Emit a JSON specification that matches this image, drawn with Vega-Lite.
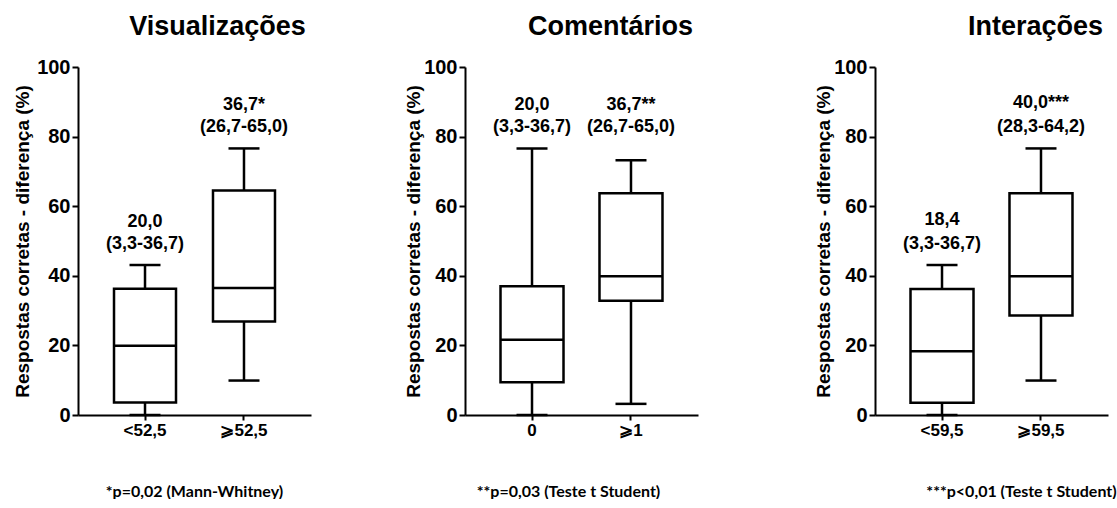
{
  "$schema": "https://vega.github.io/schema/vega-lite/v6.json",
  "background": "white",
  "padding": {"left": 13, "top": 13, "right": 0, "bottom": 0},
  "config": {
    "view": {"stroke": null},
    "font": "Liberation Sans",
    "title": {"font": "Liberation Sans", "fontSize": 27, "fontWeight": "bold", "color": "#000", "anchor": "middle", "offset": 16},
    "axis": {"domainColor": "#000", "domainWidth": 2, "tickColor": "#000", "tickWidth": 2, "labelColor": "#000", "titleColor": "#000", "grid": false, "labelFont": "Liberation Sans", "titleFont": "Liberation Sans", "labelFontWeight": "bold", "titleFontWeight": "bold"},
    "tick": {"opacity": 1}
  },
  "datasets": {
    "boxes": [
      {"panel": "V", "group": "<52,5", "lower": 0, "q1": 3.6, "median": 19.9, "q3": 36.3, "upper": 43.1, "stat": "20,0", "iqr": "(3,3-36,7)"},
      {"panel": "V", "group": "⩾52,5", "lower": 9.9, "q1": 26.9, "median": 36.5, "q3": 64.5, "upper": 76.6, "stat": "36,7*", "iqr": "(26,7-65,0)"},
      {"panel": "C", "group": "0", "lower": 0, "q1": 9.4, "median": 21.6, "q3": 37.0, "upper": 76.6, "stat": "20,0", "iqr": "(3,3-36,7)"},
      {"panel": "C", "group": "⩾1", "lower": 3.2, "q1": 32.8, "median": 39.9, "q3": 63.7, "upper": 73.2, "stat": "36,7**", "iqr": "(26,7-65,0)"},
      {"panel": "I", "group": "<59,5", "lower": 0, "q1": 3.5, "median": 18.3, "q3": 36.2, "upper": 43.1, "stat": "18,4", "iqr": "(3,3-36,7)"},
      {"panel": "I", "group": "⩾59,5", "lower": 9.9, "q1": 28.6, "median": 39.9, "q3": 63.7, "upper": 76.6, "stat": "40,0***", "iqr": "(28,3-64,2)"}
    ]
  },
  "hconcat": [
    {
      "hconcat": [
        {
          "title": {"text": "Visualizações", "dx": 23},
          "width": 233, "height": 348,
          "data": {"name": "boxes"},
          "transform": [{"filter": "datum.panel === 'V'"}],
          "encoding": {
            "x": {"field": "group", "type": "nominal", "sort": null, "scale": {"paddingInner": 0, "paddingOuter": 0.177},
              "axis": {"title": "*p=0,02 (Mann-Whitney)", "titleFont": "Lato", "titleFontSize": 16, "titlePadding": 45, "titleX": 116, "titleAlign": "center", "labelAngle": 0, "labelFontSize": 17, "tickSize": 5, "labelPadding": 2}}
          },
          "layer": [
            {"mark": {"type": "rule", "color": "#000", "strokeWidth": 2.5}, "encoding": {"y": {"field": "lower", "type": "quantitative", "scale": {"domain": [0, 100], "nice": false}, "axis": {"title": "Respostas corretas - diferença (%)", "titleFontSize": 19, "titlePadding": 4, "values": [0,5,10,15,20,25,30,35,40,45,50,55,60,65,70,75,80,85,90,95,100], "labelExpr": "datum.value % 20 === 0 ? datum.label : ''", "labelFontSize": 20, "labelPadding": 2, "tickSize": {"condition": {"test": "datum.value % 20 === 0", "value": 6}, "value": 3}}}, "y2": {"field": "q1"}}},
            {"mark": {"type": "rule", "color": "#000", "strokeWidth": 2.5}, "encoding": {"y": {"field": "q3", "type": "quantitative"}, "y2": {"field": "upper"}}},
            {"mark": {"type": "tick", "color": "#000", "opacity": 1, "size": 31, "thickness": 2.5, "orient": "horizontal"}, "encoding": {"y": {"field": "lower", "type": "quantitative"}}},
            {"mark": {"type": "tick", "color": "#000", "opacity": 1, "size": 31, "thickness": 2.5, "orient": "horizontal"}, "encoding": {"y": {"field": "upper", "type": "quantitative"}}},
            {"mark": {"type": "bar", "fill": "white", "stroke": "#000", "strokeWidth": 2.5, "size": 62}, "encoding": {"y": {"field": "q1", "type": "quantitative"}, "y2": {"field": "q3"}}},
            {"mark": {"type": "tick", "color": "#000", "opacity": 1, "size": 62, "thickness": 2.5, "orient": "horizontal"}, "encoding": {"y": {"field": "median", "type": "quantitative"}}},
            {"mark": {"type": "text", "font": "Liberation Sans", "fontWeight": "bold", "fontSize": 18, "color": "#000", "baseline": "middle", "dy": -43}, "encoding": {"y": {"field": "upper", "type": "quantitative"}, "text": {"field": "stat"}}},
            {"mark": {"type": "text", "font": "Liberation Sans", "fontWeight": "bold", "fontSize": 18, "color": "#000", "baseline": "middle", "dy": -21}, "encoding": {"y": {"field": "upper", "type": "quantitative"}, "text": {"field": "iqr"}}}
          ]
        },
        {
          "title": {"text": "Comentários", "dx": 29},
          "width": 233, "height": 348,
          "data": {"name": "boxes"},
          "transform": [{"filter": "datum.panel === 'C'"}, {"joinaggregate": [{"op": "max", "field": "upper", "as": "top"}]}],
          "encoding": {
            "x": {"field": "group", "type": "nominal", "sort": null, "scale": {"paddingInner": 0, "paddingOuter": 0.177},
              "axis": {"title": "**p=0,03 (Teste t Student)", "titleFont": "Lato", "titleFontSize": 16, "titlePadding": 45, "titleX": 103, "titleAlign": "center", "labelAngle": 0, "labelFontSize": 17, "tickSize": 5, "labelPadding": 2}}
          },
          "layer": [
            {"mark": {"type": "rule", "color": "#000", "strokeWidth": 2.5}, "encoding": {"y": {"field": "lower", "type": "quantitative", "scale": {"domain": [0, 100], "nice": false}, "axis": {"title": "Respostas corretas - diferença (%)", "titleFontSize": 19, "titlePadding": 0, "values": [0,5,10,15,20,25,30,35,40,45,50,55,60,65,70,75,80,85,90,95,100], "labelExpr": "datum.value % 20 === 0 ? datum.label : ''", "labelFontSize": 20, "labelPadding": 2, "tickSize": {"condition": {"test": "datum.value % 20 === 0", "value": 6}, "value": 3}}}, "y2": {"field": "q1"}}},
            {"mark": {"type": "rule", "color": "#000", "strokeWidth": 2.5}, "encoding": {"y": {"field": "q3", "type": "quantitative"}, "y2": {"field": "upper"}}},
            {"mark": {"type": "tick", "color": "#000", "opacity": 1, "size": 31, "thickness": 2.5, "orient": "horizontal"}, "encoding": {"y": {"field": "lower", "type": "quantitative"}}},
            {"mark": {"type": "tick", "color": "#000", "opacity": 1, "size": 31, "thickness": 2.5, "orient": "horizontal"}, "encoding": {"y": {"field": "upper", "type": "quantitative"}}},
            {"mark": {"type": "bar", "fill": "white", "stroke": "#000", "strokeWidth": 2.5, "size": 63}, "encoding": {"y": {"field": "q1", "type": "quantitative"}, "y2": {"field": "q3"}}},
            {"mark": {"type": "tick", "color": "#000", "opacity": 1, "size": 63, "thickness": 2.5, "orient": "horizontal"}, "encoding": {"y": {"field": "median", "type": "quantitative"}}},
            {"mark": {"type": "text", "font": "Liberation Sans", "fontWeight": "bold", "fontSize": 18, "color": "#000", "baseline": "middle", "dy": -43}, "encoding": {"y": {"field": "top", "type": "quantitative"}, "text": {"field": "stat"}}},
            {"mark": {"type": "text", "font": "Liberation Sans", "fontWeight": "bold", "fontSize": 18, "color": "#000", "baseline": "middle", "dy": -21}, "encoding": {"y": {"field": "top", "type": "quantitative"}, "text": {"field": "iqr"}}}
          ]
        }
      ],
      "spacing": 93
    },
    {
      "title": {"text": "Interações", "dx": 44},
      "width": 233, "height": 348,
      "data": {"name": "boxes"},
      "transform": [{"filter": "datum.panel === 'I'"}],
      "encoding": {
        "x": {"field": "group", "type": "nominal", "sort": null, "scale": {"paddingInner": 0, "paddingOuter": 0.177},
          "axis": {"title": "***p<0,01 (Teste t Student)", "titleFont": "Lato", "titleFontSize": 16, "titlePadding": 45, "titleX": 146, "titleAlign": "center", "labelAngle": 0, "labelFontSize": 17, "tickSize": 5, "labelPadding": 2}}
      },
      "layer": [
        {"mark": {"type": "rule", "color": "#000", "strokeWidth": 2.5}, "encoding": {"y": {"field": "lower", "type": "quantitative", "scale": {"domain": [0, 100], "nice": false}, "axis": {"title": "Respostas corretas - diferença (%)", "titleFontSize": 19, "titlePadding": 0, "values": [0,5,10,15,20,25,30,35,40,45,50,55,60,65,70,75,80,85,90,95,100], "labelExpr": "datum.value % 20 === 0 ? datum.label : ''", "labelFontSize": 20, "labelPadding": 2, "tickSize": {"condition": {"test": "datum.value % 20 === 0", "value": 6}, "value": 3}}}, "y2": {"field": "q1"}}},
        {"mark": {"type": "rule", "color": "#000", "strokeWidth": 2.5}, "encoding": {"y": {"field": "q3", "type": "quantitative"}, "y2": {"field": "upper"}}},
        {"mark": {"type": "tick", "color": "#000", "opacity": 1, "size": 31, "thickness": 2.5, "orient": "horizontal"}, "encoding": {"y": {"field": "lower", "type": "quantitative"}}},
        {"mark": {"type": "tick", "color": "#000", "opacity": 1, "size": 31, "thickness": 2.5, "orient": "horizontal"}, "encoding": {"y": {"field": "upper", "type": "quantitative"}}},
        {"mark": {"type": "bar", "fill": "white", "stroke": "#000", "strokeWidth": 2.5, "size": 63}, "encoding": {"y": {"field": "q1", "type": "quantitative"}, "y2": {"field": "q3"}}},
        {"mark": {"type": "tick", "color": "#000", "opacity": 1, "size": 63, "thickness": 2.5, "orient": "horizontal"}, "encoding": {"y": {"field": "median", "type": "quantitative"}}},
        {"mark": {"type": "text", "font": "Liberation Sans", "fontWeight": "bold", "fontSize": 18, "color": "#000", "baseline": "middle", "dy": -45}, "encoding": {"y": {"field": "upper", "type": "quantitative"}, "text": {"field": "stat"}}},
        {"mark": {"type": "text", "font": "Liberation Sans", "fontWeight": "bold", "fontSize": 18, "color": "#000", "baseline": "middle", "dy": -21}, "encoding": {"y": {"field": "upper", "type": "quantitative"}, "text": {"field": "iqr"}}}
      ]
    }
  ],
  "spacing": 116
}
